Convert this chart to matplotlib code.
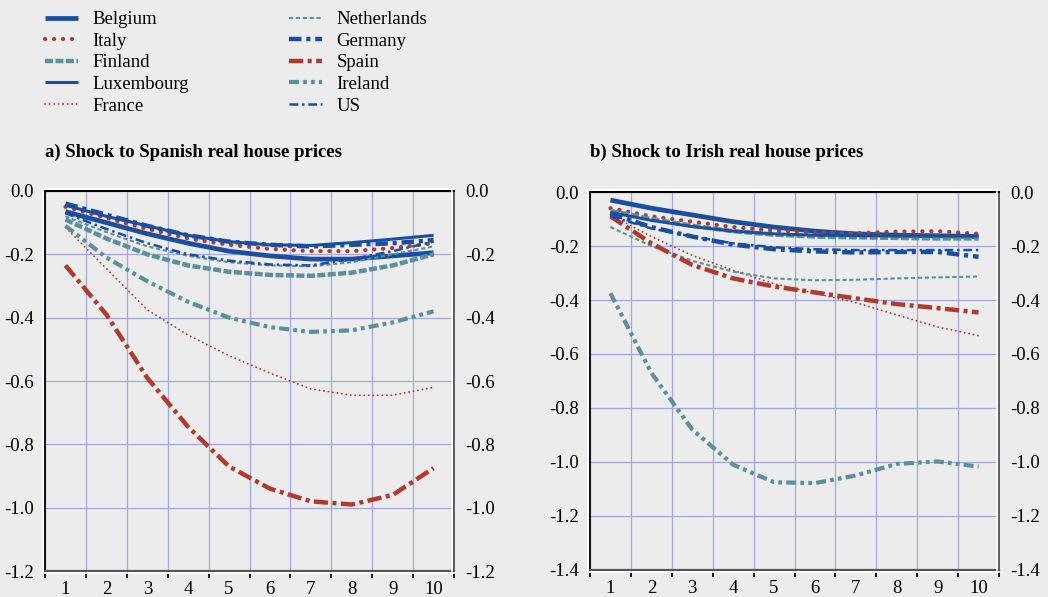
import numpy as np
import matplotlib
matplotlib.use("Agg")
import matplotlib.pyplot as plt
from matplotlib.ticker import FixedLocator, FuncFormatter, NullFormatter
from matplotlib.transforms import offset_copy

plt.rcParams['font.family'] = ['Liberation Serif', 'DejaVu Serif']

# horizon (years after the shock)
periods = [1, 2, 3, 4, 5, 6, 7, 8, 9, 10]

# a) shock to Spanish real house prices
a_belgium     = [-0.065, -0.100, -0.135, -0.165, -0.190, -0.205, -0.215, -0.215, -0.205, -0.195]
a_italy       = [-0.050, -0.085, -0.120, -0.150, -0.170, -0.183, -0.190, -0.190, -0.180, -0.165]
a_finland     = [-0.090, -0.150, -0.200, -0.235, -0.255, -0.265, -0.268, -0.258, -0.235, -0.200]
a_luxembourg  = [-0.045, -0.080, -0.110, -0.140, -0.160, -0.170, -0.172, -0.163, -0.152, -0.140]
a_france      = [-0.115, -0.245, -0.375, -0.455, -0.520, -0.575, -0.625, -0.645, -0.645, -0.620]
a_netherlands = [-0.080, -0.130, -0.175, -0.205, -0.225, -0.235, -0.238, -0.225, -0.200, -0.175]
a_germany     = [-0.040, -0.075, -0.110, -0.140, -0.160, -0.170, -0.175, -0.170, -0.165, -0.155]
a_spain       = [-0.235, -0.390, -0.590, -0.745, -0.870, -0.940, -0.980, -0.990, -0.960, -0.875]
a_ireland     = [-0.110, -0.210, -0.285, -0.350, -0.400, -0.430, -0.445, -0.440, -0.415, -0.380]
a_us          = [-0.070, -0.120, -0.165, -0.200, -0.220, -0.232, -0.235, -0.215, -0.190, -0.160]

# b) shock to Irish real house prices
b_belgium     = [-0.030, -0.060, -0.085, -0.110, -0.130, -0.145, -0.155, -0.160, -0.162, -0.165]
b_italy       = [-0.060, -0.090, -0.110, -0.130, -0.143, -0.150, -0.152, -0.147, -0.145, -0.155]
b_finland     = [-0.070, -0.100, -0.125, -0.145, -0.158, -0.165, -0.168, -0.170, -0.172, -0.172]
b_luxembourg  = [-0.075, -0.105, -0.128, -0.145, -0.155, -0.160, -0.162, -0.163, -0.163, -0.163]
b_france      = [-0.085, -0.165, -0.235, -0.290, -0.340, -0.375, -0.410, -0.455, -0.500, -0.532]
b_netherlands = [-0.130, -0.200, -0.255, -0.295, -0.320, -0.327, -0.325, -0.320, -0.316, -0.313]
b_germany     = [-0.080, -0.130, -0.165, -0.195, -0.212, -0.220, -0.224, -0.222, -0.222, -0.240]
b_spain       = [-0.090, -0.190, -0.270, -0.320, -0.350, -0.372, -0.394, -0.415, -0.430, -0.446]
b_ireland     = [-0.375, -0.670, -0.880, -1.010, -1.075, -1.078, -1.050, -1.007, -0.998, -1.017]
b_us          = [-0.090, -0.135, -0.165, -0.190, -0.205, -0.212, -0.215, -0.215, -0.215, -0.215]

countries = ["Belgium", "Italy", "Finland", "Luxembourg", "France",
             "Netherlands", "Germany", "Spain", "Ireland", "US"]
panel_a = [a_belgium, a_italy, a_finland, a_luxembourg, a_france,
           a_netherlands, a_germany, a_spain, a_ireland, a_us]
panel_b = [b_belgium, b_italy, b_finland, b_luxembourg, b_france,
           b_netherlands, b_germany, b_spain, b_ireland, b_us]

BLUE = "#1a4fa0"
RED = "#b03a2e"
TEAL = "#5a8f9b"
BG = "#ececec"
GRID = "#9ea8e2"

# colour, linewidth, dash pattern (None = solid), cap style
styles = {
    "Belgium":     (BLUE, 3.4, None, "butt"),
    "Italy":       (RED, 3.0, (0, (0.05, 2.1)), "round"),
    "Finland":     (TEAL, 3.2, (0, (1.8, 0.55)), "butt"),
    "Luxembourg":  (BLUE, 2.2, None, "butt"),
    "France":      (RED, 1.3, (0, (0.1, 2.4)), "round"),
    "Netherlands": (TEAL, 1.5, (0, (2.0, 1.3)), "butt"),
    "Germany":     (BLUE, 3.2, (0, (2.8, 1.1, 0.9, 1.1)), "butt"),
    "Spain":       (RED, 3.2, (0, (3.2, 1.0, 0.9, 1.0)), "butt"),
    "Ireland":     (TEAL, 3.0, (0, (2.4, 1.0, 0.9, 1.0, 0.9, 1.0)), "butt"),
    "US":          (BLUE, 1.8, (0, (3.5, 1.5, 1.0, 1.5)), "butt"),
}

FS = 13.5

fig = plt.figure(figsize=(10.48, 5.97), dpi=100, facecolor=BG)
W, H = 1048.0, 597.0


def yfmt(v, pos):
    return "%.1f" % (v + 0.0) if abs(v) > 1e-9 else "0.0"


def make_panel(rect, series, ylim, yticks, title, title_x):
    ax = fig.add_axes(rect)
    ax.set_facecolor(BG)
    for name, vals in zip(countries, series):
        col, lw, dash, cap = styles[name]
        if dash is None:
            ax.plot(periods, vals, color=col, lw=lw, solid_capstyle="butt", label=name, zorder=3)
        else:
            ax.plot(periods, vals, color=col, lw=lw, linestyle=dash,
                    dash_capstyle=cap, label=name, zorder=3)
    ax.set_xlim(0.5, 10.5)
    ax.set_ylim(*ylim)
    ax.yaxis.set_major_locator(FixedLocator(yticks))
    ax.yaxis.set_major_formatter(FuncFormatter(yfmt))
    ax.xaxis.set_major_locator(FixedLocator(np.arange(0.5, 11, 1)))
    ax.xaxis.set_major_formatter(NullFormatter())
    ax.xaxis.set_minor_locator(FixedLocator(periods))
    ax.xaxis.set_minor_formatter(FuncFormatter(lambda v, p: "%d" % v))
    ax.grid(True, which="major", color=GRID, lw=0.9, zorder=1)
    ax.set_axisbelow(True)
    ax.tick_params(axis="y", which="both", length=0, labelsize=FS, pad=8,
                   labelright=True, right=False, labelleft=True)
    ax.tick_params(axis="x", which="major", length=5, width=1.3, color="black", direction="out")
    ax.tick_params(axis="x", which="minor", length=0, labelsize=FS, pad=7)
    ax.spines["top"].set_color("black")
    ax.spines["top"].set_linewidth(1.5)
    ax.spines["left"].set_color("black")
    ax.spines["left"].set_linewidth(1.3)
    ax.spines["bottom"].set_color("#555555")
    ax.spines["bottom"].set_linewidth(1.6)
    ax.spines["right"].set_color("#555555")
    ax.spines["right"].set_linewidth(1.3)
    # white edge lines that give the frame its embossed look
    t_up = offset_copy(ax.transAxes, fig=fig, x=0, y=1.5, units="points")
    t_dn = offset_copy(ax.transAxes, fig=fig, x=0, y=-1.6, units="points")
    t_lf = offset_copy(ax.transAxes, fig=fig, x=-1.4, y=0, units="points")
    t_rt = offset_copy(ax.transAxes, fig=fig, x=-1.4, y=0, units="points")
    ax.plot([0, 1], [1, 1], color="white", lw=1.3, transform=t_up, clip_on=False, zorder=5)
    ax.plot([0, 1], [0, 0], color="white", lw=1.3, transform=t_dn, clip_on=False, zorder=5)
    ax.plot([0, 0], [0, 1], color="white", lw=1.2, transform=t_lf, clip_on=False, zorder=5)
    ax.plot([1, 1], [0, 1], color="white", lw=1.2, transform=t_rt, clip_on=False, zorder=5)
    fig.text(title_x / W, 1 - 152 / H, title, fontsize=FS, fontweight="bold", va="center", ha="left")
    return ax


ax_a = make_panel([45 / W, 1 - 571 / H, 409 / W, 380 / H], panel_a,
                  (-1.2, 0.0), np.round(np.arange(-1.2, 0.01, 0.2), 1),
                  "a) Shock to Spanish real house prices", 45)
ax_b = make_panel([590 / W, 1 - 570 / H, 409 / W, 378 / H], panel_b,
                  (-1.4, 0.0), np.round(np.arange(-1.4, 0.01, 0.2), 1),
                  "b) Shock to Irish real house prices", 590)

handles, labels = ax_a.get_legend_handles_labels()
fig.legend(handles, labels, ncol=2, loc="upper left", bbox_to_anchor=(45 / W, 1 - 11 / H),
           frameon=False, fontsize=FS, handlelength=1.75, handletextpad=0.8,
           columnspacing=5.3, labelspacing=0.24, borderaxespad=0, borderpad=0)

fig.savefig("out.png", dpi=100, facecolor=BG)
